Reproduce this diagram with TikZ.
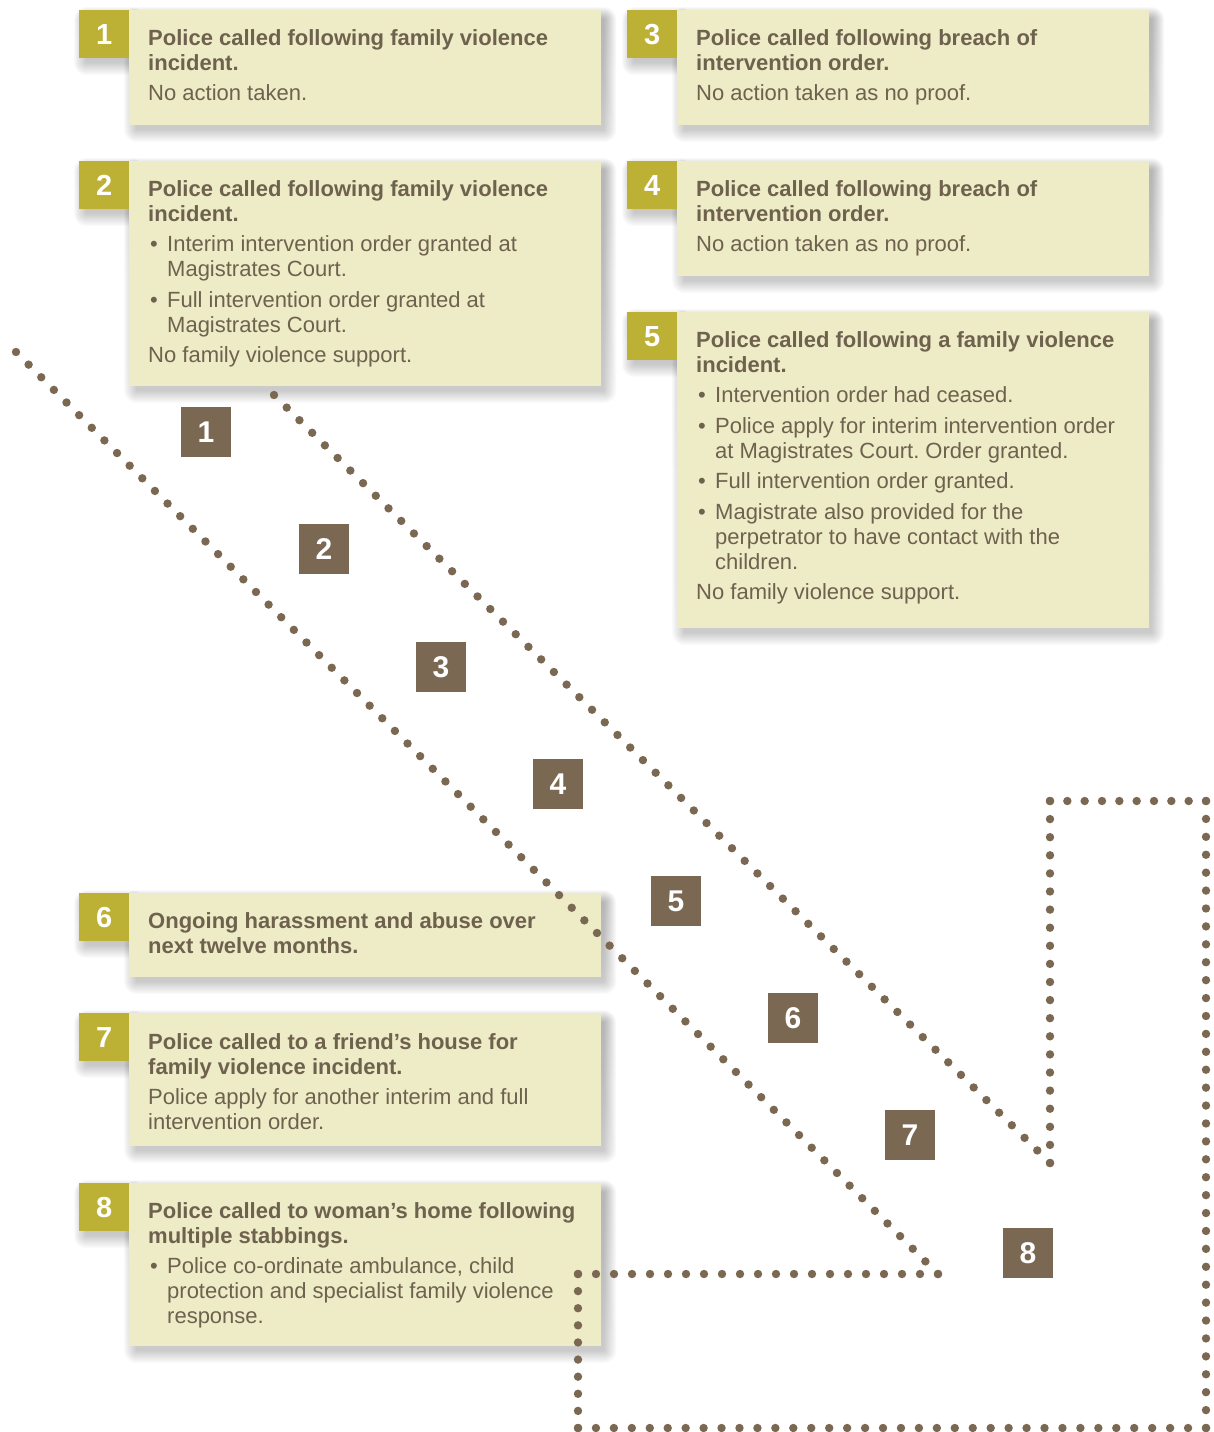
\documentclass[tikz,border=0pt]{standalone}
\usepackage{fontspec}
\setmainfont{Liberation Sans}
\usetikzlibrary{calc}
\definecolor{cream}{RGB}{238,235,199}
\definecolor{olive}{RGB}{188,177,52}
\definecolor{dotbrown}{RGB}{122,104,83}
\definecolor{txt}{RGB}{110,98,78}
\definecolor{shade}{RGB}{70,60,50}
\pgfdeclarelayer{bg}
\pgfdeclarelayer{paper}
\pgfsetlayers{paper,bg,main}
\frenchspacing
\tikzset{
  card/.style={fill=cream, draw=none, inner sep=0pt, anchor=north west, minimum width=472pt},
  tab/.style={fill=olive, inner sep=0pt, anchor=north west, minimum width=50pt, minimum height=48pt,
    text=white, font=\bfseries\fontsize{29}{29}\selectfont},
  sq/.style={fill=dotbrown, inner sep=0pt, minimum size=50pt, text=white,
    font=\bfseries\fontsize{30}{30}\selectfont},
  body/.style={anchor=base west, inner sep=0pt, text=txt},
  dot/.style={fill=dotbrown},
}
\newcommand{\cardtext}[1]{\parbox[t]{500pt}{\frenchspacing\fontsize{22}{25}\selectfont\raggedright #1}}
\newcommand{\bl}{\makebox[19pt][l]{\hspace{2pt}\textbullet}}
\newcommand{\ind}{\hspace*{19pt}}
\newcommand{\softshadow}[1]{%
  \begin{pgfonlayer}{bg}
  \foreach \i in {1,...,13}{%
    \fill[shade,opacity=0.017,rounded corners=\i] ($(#1.north west)+(8-\i,10-\i)$) rectangle ($(#1.south east)+(2+\i,4+\i)$);}
  \end{pgfonlayer}}
\newcommand{\dotrow}[3]{%
  \foreach \k in {0,...,#3}{\fill[dot] ($(#1)!\k/#3!(#2)$) circle (4.2);}}
\begin{document}
\begin{tikzpicture}[x=1pt,y=-1pt]
\begin{pgfonlayer}{paper}
\fill[white] (0,0) rectangle (1213,1432);
\end{pgfonlayer}
\useasboundingbox (0,0) rectangle (1213,1432);

% cards
\node[card, minimum height=115pt] (c1) at (129,10) {};
\node[card, minimum height=225pt] (c2) at (129,161) {};
\node[card, minimum height=115pt] (c3) at (677,10) {};
\node[card, minimum height=115pt] (c4) at (677,161) {};
\node[card, minimum height=316pt] (c5) at (677,312) {};
\node[card, minimum height=84pt] (c6) at (129,893) {};
\node[card, minimum height=133pt] (c7) at (129,1013) {};
\node[card, minimum height=163pt] (c8) at (129,1183) {};

% tabs
\node[tab] (k1) at (79,10) {1};
\node[tab] (k2) at (79,161) {2};
\node[tab] (k3) at (627,10) {3};
\node[tab] (k4) at (627,161) {4};
\node[tab] (k5) at (627,312) {5};
\node[tab] (k6) at (79,893) {6};
\node[tab] (k7) at (79,1013) {7};
\node[tab] (k8) at (79,1183) {8};

\foreach \n in {c1,c2,c3,c4,c5,c6,c7,c8,k1,k2,k3,k4,k5,k6,k7,k8}{\softshadow{\n}}

% texts
\node[body] (t1) at (148,45) {\cardtext{\textbf{Police called following family violence\\incident.}\\[5.5pt]
No action taken.}};
\node[body] (t2) at (148,196) {\cardtext{\textbf{Police called following family violence\\incident.}\\[5.5pt]
\bl Interim intervention order granted at\\
\ind Magistrates Court.\\[5.5pt]
\bl Full intervention order granted at\\
\ind Magistrates Court.\\[5.5pt]
No family violence support.}};
\node[body] (t3) at (696,45) {\cardtext{\textbf{Police called following breach of\\intervention order.}\\[5.5pt]
No action taken as no proof.}};
\node[body] (t4) at (696,196) {\cardtext{\textbf{Police called following breach of\\intervention order.}\\[5.5pt]
No action taken as no proof.}};
\node[body] (t5) at (696,347) {\cardtext{\textbf{Police called following a family violence\\incident.}\\[5.5pt]
\bl Intervention order had ceased.\\[5.5pt]
\bl Police apply for interim intervention order\\
\ind at Magistrates Court. Order granted.\\[5.5pt]
\bl Full intervention order granted.\\[5.5pt]
\bl Magistrate also provided for the\\
\ind perpetrator to have contact with the\\
\ind children.\\[5.5pt]
No family violence support.}};
\node[body] (t6) at (148,928) {\cardtext{\textbf{Ongoing harassment and abuse over\\next twelve months.}}};
\node[body] (t7) at (148,1049) {\cardtext{\textbf{Police called to a friend’s house for\\family violence incident.}\\[5.5pt]
Police apply for another interim and full\\
intervention order.}};
\node[body] (t8) at (148,1218) {\cardtext{\textbf{Police called to woman’s home following\\multiple stabbings.}\\[5.5pt]
\bl Police co-ordinate ambulance, child\\
\ind protection and specialist family violence\\
\ind response.}};

% dotted route
\coordinate (p0) at (16,352);
\coordinate (p1) at (938,1274);
\coordinate (p2) at (578,1274);
\coordinate (p3) at (578,1428);
\coordinate (p4) at (1206,1428);
\coordinate (p5) at (1206,801);
\coordinate (p6) at (1050,801);
\coordinate (p7) at (1050,1163);
\coordinate (p8) at (274,395);
\dotrow{p0}{p1}{73}
\dotrow{p1}{p2}{20}
\dotrow{p2}{p3}{9}
\dotrow{p3}{p4}{35}
\dotrow{p4}{p5}{35}
\dotrow{p5}{p6}{9}
\dotrow{p6}{p7}{20}
\dotrow{p7}{p8}{61}

% numbered squares
\node[sq] (s1) at (206,432) {1};
\node[sq] (s2) at (324,549) {2};
\node[sq] (s3) at (441,667) {3};
\node[sq] (s4) at (558,784) {4};
\node[sq] (s5) at (676,901) {5};
\node[sq] (s6) at (793,1018) {6};
\node[sq] (s7) at (910,1135) {7};
\node[sq] (s8) at (1028,1253) {8};
\end{tikzpicture}
\end{document}
